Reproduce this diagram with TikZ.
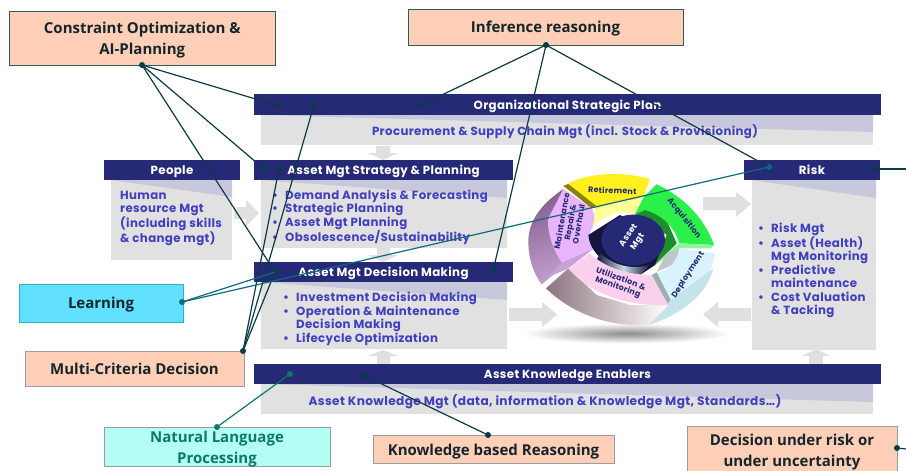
\documentclass[tikz,border=0pt]{standalone}
\usepackage{fontspec}
\setmainfont[LetterSpace=3]{Poppins}
\newfontfamily\callfont{Open Sans}
\usetikzlibrary{shapes.geometric}
\definecolor{barblue}{HTML}{252976}
\definecolor{panelgrey}{HTML}{E1E1E1}
\definecolor{shadeblue}{HTML}{C8C8DC}
\definecolor{txtblue}{HTML}{4040BE}
\definecolor{peach}{HTML}{FFCFB8}
\definecolor{skyfill}{HTML}{61E0FF}
\definecolor{mintfill}{HTML}{B4FFF5}
\definecolor{darkteal}{HTML}{0B3B44}
\definecolor{teal1}{HTML}{0C6B80}
\definecolor{teal2}{HTML}{0D7A68}
\definecolor{calltxt}{HTML}{14252B}
\definecolor{arrowgrey}{HTML}{E0E0E0}
\definecolor{cE8B4FB}{HTML}{E8B4FB}
\definecolor{cFFF01E}{HTML}{FFF01E}
\definecolor{cFFFF99}{HTML}{FFFF99}
\definecolor{c8F7E10}{HTML}{8F7E10}
\definecolor{c1E8E2A}{HTML}{1E8E2A}
\definecolor{c2CF04A}{HTML}{2CF04A}
\definecolor{c90F59A}{HTML}{90F59A}
\definecolor{cBFC5C8}{HTML}{BFC5C8}
\definecolor{cD8F3FB}{HTML}{D8F3FB}
\definecolor{cC4E3EA}{HTML}{C4E3EA}
\definecolor{c9DAFB0}{HTML}{9DAFB0}
\definecolor{c15153F}{HTML}{15153F}
\definecolor{cFBD0EC}{HTML}{FBD0EC}
\definecolor{cC9A0D8}{HTML}{C9A0D8}
\definecolor{cBD9CCB}{HTML}{BD9CCB}
\definecolor{c86608F}{HTML}{86608F}
\definecolor{c8E7480}{HTML}{8E7480}
\tikzset{
  bar/.style={fill=barblue,draw=none,inner sep=0pt,text=white,text height=12pt,text depth=3pt,font=\fontsize{11.8}{13}\selectfont\bfseries},
  panel/.style={fill=panelgrey,draw=none},
  shadetri/.style={fill=shadeblue,draw=none},
  bluetxt/.style={text=txtblue,inner sep=0pt,align=left,anchor=north west,font=\fontsize{11.8}{13.45}\selectfont\bfseries},
  bluemid/.style={text=txtblue,inner sep=0pt,font=\fontsize{11.8}{13.45}\selectfont\bfseries},
  callout/.style={draw=#1,line width=0.8pt,inner sep=0pt,align=center,text=calltxt,font=\callfont\fontsize{15}{21}\selectfont\bfseries},
  calltext/.style={inner sep=0pt,align=center,font=\callfont\fontsize{15}{21}\selectfont\bfseries},
  dot/.style={circle,fill=#1,draw=none,minimum size=6pt,inner sep=0pt},
  link/.style={draw=darkteal,line width=1.2pt},
  greyarrow/.style={fill=arrowgrey,draw=none},
  wheeltxt/.style={text=barblue,font=\fontsize{8}{8.6}\selectfont\bfseries,align=center,inner sep=0pt},
}
\newcommand{\blt}{\llap{\makebox[13pt][l]{•}}}
\newcommand{\fl}{\rule{0pt}{10.5pt}}
\newcommand{\barbox}[5]{\node[bar,minimum width=#3-#2,minimum height=20.5pt] (#1) at ({(#2+#3)/2},#4) {#5};}
\begin{document}
\begin{tikzpicture}[x=1pt,y=-1pt]
\clip (0,0) rectangle (906,471);
\fill[white] (0,0) rectangle (906,471);
% panels
\fill[panel] (261,115) rectangle (873,145);
\fill[shadetri] (261,115) -- (873,115) -- (873,132) -- cycle;
\fill[panel] (111,180) rectangle (232,260);
\fill[shadetri] (111,180) -- (232,180) -- (232,197) -- cycle;
\fill[panel] (261,180) rectangle (507,248);
\fill[shadetri] (261,180) -- (507,180) -- (507,198) -- cycle;
\fill[panel] (261,282) rectangle (507,349);
\fill[shadetri] (261,282) -- (507,282) -- (507,300) -- cycle;
\fill[panel] (261,384) rectangle (873,414);
\fill[shadetri] (261,384) -- (873,384) -- (873,402) -- cycle;
\fill[panel] (752,180) rectangle (876,350);
\fill[shadetri] (752,180) -- (876,180) -- (876,198) -- cycle;
% block arrows
\fill[greyarrow] (376,146) -- (390,146) -- (390,153) -- (398,153) -- (383,160) -- (368,153) -- (376,153) -- cycle;
\fill[greyarrow] (377,248) -- (390,248) -- (390,255) -- (398,255) -- (383,262) -- (368,255) -- (377,255) -- cycle;
\fill[greyarrow] (377,364) -- (390,364) -- (390,356) -- (398,356) -- (383,350) -- (368,356) -- (377,356) -- cycle;
\fill[greyarrow] (809,364) -- (823,364) -- (823,356) -- (830,356) -- (816,349) -- (802,356) -- (809,356) -- cycle;
\fill[greyarrow] (234,207) -- (246,207) -- (246,200) -- (259,213) -- (246,226) -- (246,219) -- (234,219) -- cycle;
\fill[greyarrow] (509,308) -- (542,308) -- (542,302) -- (557,314.5) -- (542,327) -- (542,321) -- (509,321) -- cycle;
\fill[greyarrow] (751,308) -- (718,308) -- (718,302) -- (703,314.5) -- (718,327) -- (718,321) -- (751,321) -- cycle;
\fill[greyarrow] (703,197) -- (736,197) -- (736,192) -- (751,204) -- (736,217) -- (736,210) -- (703,210) -- cycle;
% bars
\barbox{org}{254}{881}{104.5}{Organizational Strategic Plan}
\barbox{people}{104}{240}{170}{People}
\barbox{strategy}{254}{513}{170}{Asset Mgt Strategy \& Planning}
\barbox{decide}{254}{513}{272}{Asset Mgt Decision Making}
\barbox{enablers}{254}{881}{374}{Asset Knowledge Enablers}
\barbox{risk}{744}{880}{170}{Risk}
% panel text
\node[bluemid] (orgtxt) at (565,131.5) {Procurement \& Supply Chain Mgt (incl. Stock \& Provisioning)};
\node[bluemid,font=\fontsize{12.15}{13.45}\selectfont\bfseries] (entxt) at (545,401.5) {Asset Knowledge Mgt (data, information \& Knowledge Mgt, Standards…)};
\node[bluetxt] (peopletxt) at (120,188.5) {\fl Human\\resource Mgt\\(including skills\\\& change mgt)};
\node[bluetxt] (strattxt) at (285,188.5) {\fl\blt Demand Analysis \& Forecasting\\\blt Strategic Planning\\\blt Asset Mgt Planning\\\blt Obsolescence/Sustainability};
\node[bluetxt] (dectxt) at (296,291) {\fl\blt Investment Decision Making\\\blt Operation \& Maintenance\\Decision Making\\\blt Lifecycle Optimization};
\node[bluetxt] (risktxt) at (771,221.5) {\fl\blt Risk Mgt\\\blt Asset (Health)\\Mgt Monitoring\\\blt Predictive\\maintenance\\\blt Cost Valuation\\\& Tacking};
% wheel
\begin{scope}[shift={(520,165)},scale=1/3]
\shade[inner color=black!45,outer color=white,draw=none] (320,505) ellipse (310 and 30);
% maintenance side
\shade[left color=cBD9CCB,right color=c86608F,shading angle=200]
  (130,72) .. controls (60,120) and (25,170) .. (25,230) .. controls (25,280) and (40,325) .. (65,358) -- (130,295) -- (100,235) -- (95,170) -- cycle;
\fill[cC9A0D8] (65,358) -- (125,292) -- (222,250) -- (145,310) -- (100,330) -- cycle;
% maintenance face
\fill[cE8B4FB] (130,72) -- (215,130) -- (228,160) -- (205,215) -- (222,250) -- (125,292) .. controls (95,250) and (80,190) .. (85,160) -- cycle;
% retirement
\fill[cFFF01E] (130,65) .. controls (170,35) and (270,10) .. (390,42) -- (370,95) -- (330,110) .. controls (280,120) and (240,150) .. (220,180) -- (228,130) -- cycle;
\fill[cFFFF99] (225,135) .. controls (270,105) and (330,100) .. (370,108) -- (340,148) .. controls (300,130) and (260,150) .. (220,180) -- cycle;
\fill[c8F7E10] (130,62) -- (145,57) -- (228,122) -- (215,130) -- cycle;
% acquisition
\fill[c1E8E2A] (345,148) -- (375,110) -- (420,120) -- (470,235) -- (405,300) -- (440,210) -- cycle;
\fill[c2CF04A] (345,148) -- (372,95) -- (410,58) .. controls (480,90) and (550,150) .. (582,240) -- (478,235) .. controls (465,190) and (430,150) .. (375,135) -- cycle;
\fill[c90F59A] (478,235) -- (582,240) -- (572,250) -- (478,250) -- (405,300) -- (440,265) -- cycle;
% deployment
\fill[cBFC5C8] (410,320) -- (440,265) -- (478,250) -- (470,295) -- cycle;
\fill[cD8F3FB] (478,250) -- (585,265) .. controls (580,320) and (530,390) .. (452,415) -- (410,325) .. controls (440,320) and (470,295) .. (478,250) -- cycle;
\fill[cC4E3EA] (452,405) -- (580,310) .. controls (560,390) and (480,450) .. (392,478) -- cycle;
\fill[c9DAFB0] (395,330) -- (410,322) -- (452,405) -- (392,478) -- (385,470) -- (440,420) -- cycle;
% hub
\fill[c15153F] (205,210) .. controls (210,280) and (300,325) .. (360,330) -- (405,300) -- (435,225) -- (300,150) -- cycle;
\shade[left color=c15153F,right color=c15153F,middle color=black!10!cD8F3FB] (230,285) .. controls (270,315) and (310,330) .. (360,330) -- (390,300) .. controls (330,315) and (280,300) .. (240,265) -- cycle;
\fill[barblue] (340,225) ellipse (95 and 76);
% utilization
\shade[left color=c8E7480,right color=white] (78,370) -- (145,310) -- (230,390) -- (330,420) -- (445,420) -- (390,478) .. controls (280,490) and (160,450) .. (78,370) -- cycle;
\fill[cFBD0EC] (145,310) -- (210,265) .. controls (250,305) and (320,330) .. (395,330) -- (445,420) .. controls (350,425) and (220,400) .. (145,310) -- cycle;
\node[wheeltxt,rotate=-2] (wretire) at (277,76) {Retirement};
\node[wheeltxt,rotate=-52] (wacq) at (492,160) {Acquisition};
\node[wheeltxt,rotate=57] (wdep) at (505,330) {Deployment};
\node[wheeltxt,rotate=-20] (wutil) at (298,355) {Utilization \&\\Monitoring};
\node[wheeltxt,rotate=80] (wmaint) at (150,172) {Maintenance\\Repair \&\\Overhaul};
\node[text=white,rotate=55,align=center,inner sep=0pt,font=\fontsize{8.5}{11}\selectfont\bfseries] (whub) at (340,222) {Asset\\Mgt};
\end{scope}
% callouts
\node[callout=black!50!teal!60!gray,fill=peach,minimum width=265.5pt,minimum height=54pt] (constraint) at (142.25,38) {\rule{0pt}{15pt}Constraint Optimization \&\\AI-Planning};
\node[callout=black!50!teal!60!gray,fill=peach,minimum width=275pt,minimum height=36pt] (inference) at (545.5,27) {\rule{0pt}{15pt}Inference reasoning};
\node[callout=teal!50!skyfill,fill=skyfill,minimum width=164pt,minimum height=38pt] (learning) at (101,303) {\rule{0pt}{15pt}Learning};
\node[callout=black!30!gray!60,fill=peach,minimum width=219pt,minimum height=35pt] (multi) at (134.5,368.5) {\rule{0pt}{13pt}Multi-Criteria Decision};
\node[callout=black!30!gray!60,fill=mintfill,minimum width=226pt,minimum height=39pt] (nlp) at (217,446.5) {};
\node[calltext,text=teal2] (nlptxt) at (217,449.5) {Natural Language\\Processing};
\node[callout=black!30!gray!60,fill=peach,minimum width=241pt,minimum height=28pt] (kbr) at (493.5,449) {\rule{0pt}{17pt}Knowledge based Reasoning};
\node[callout=black!30!gray!60,fill=peach,minimum width=210pt,minimum height=52pt] (dur) at (792,452) {Decision under risk or\\under uncertainty};
% anchors
\node[dot=darkteal] (dconstraint) at (142,65) {};
\node[dot=darkteal] (dinference) at (546,45) {};
\node[dot=darkteal] (dmulti) at (243,351) {};
\node[dot=teal1] (dlearning) at (182,302) {};
\node[dot=teal2] (dnlp) at (217,427) {};
\node[dot=darkteal] (dkbr) at (488,435) {};
\node[dot=darkteal] (ddur) at (897,448) {};
\node[dot=darkteal] (a1) at (279,106) {};
\node[dot=darkteal] (a2) at (314,105) {};
\node[dot=darkteal] (a3) at (421,105) {};
\node[dot=darkteal] (a4) at (264,169) {};
\node[dot=darkteal] (a5) at (279,169) {};
\node[dot=darkteal] (a6) at (275,272) {};
\node[dot=darkteal] (a7) at (493,271) {};
\node[dot=teal1] (a8) at (769,167) {};
\node[dot=darkteal] (a9) at (873,169) {};
\node[dot=teal2] (a10) at (290,374) {};
\node[dot=darkteal] (a11) at (365,376) {};
\coordinate (edgea) at (906,169);
\coordinate (edgeb) at (906,449);
% connectors
\draw[link] (dconstraint.center) -- (a1.center);
\draw[link] (dconstraint.center) -- (a4.center);
\draw[link] (dconstraint.center) -- (a6.center);
\draw[link] (dmulti.center) -- (a2.center);
\draw[link] (dmulti.center) -- (a5.center);
\draw[link] (dmulti.center) -- (a6.center);
\draw[link] (dinference.center) -- (a3.center);
\draw[link] (dinference.center) -- (a7.center);
\draw[link] (dinference.center) -- (a8.center);
\draw[link,draw=teal1] (dlearning.center) -- (a6.center);
\draw[link,draw=teal1] (dlearning.center) -- (a8.center);
\draw[link] (a9.center) -- (edgea);
\draw[link] (ddur.center) -- (edgeb);
\draw[link,draw=teal2] (dnlp.center) -- (a10.center);
\draw[link] (dkbr.center) -- (a11.center);
\end{tikzpicture}
\end{document}
